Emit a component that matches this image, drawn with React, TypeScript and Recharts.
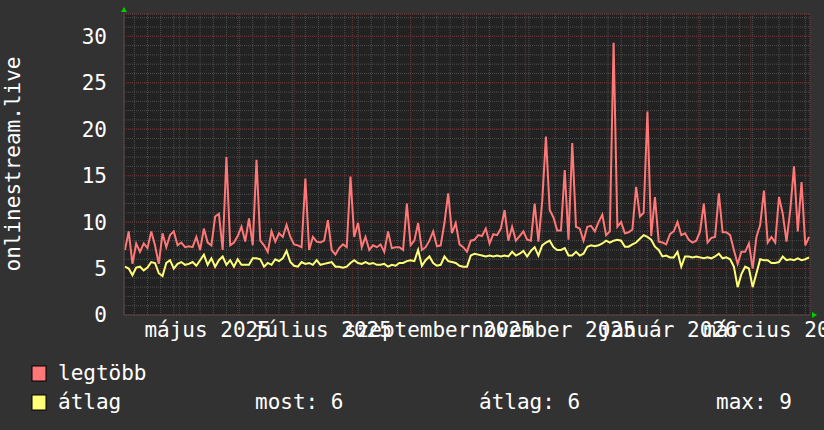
import { LineChart, Line, XAxis, YAxis, CartesianGrid, ReferenceDot } from "recharts";

const FONT = "'DejaVu Sans Mono', monospace";

// x = days since 1 Apr 2025, one sample every second day
const days = Array.from({ length: 183 }, (_, i) => 1 + i * 2);

// "legtöbb" (max)
const maxValues = [
  7.0, 9.0, 5.5, 7.7, 6.8, 7.7, 7.2, 9.0, 7.5, 5.5, 8.8, 7.3, 8.6, 9.0, 7.5, 7.8,
  7.3, 7.4, 7.3, 8.4, 7.0, 9.3, 7.8, 7.5, 10.6, 10.9, 7.0, 17.0, 7.5, 7.8, 8.5,
  9.5, 7.9, 10.4, 7.5, 16.7, 8.0, 7.5, 6.8, 9.0, 7.9, 8.8, 8.4, 9.7, 8.4, 7.6,
  7.5, 7.3, 14.7, 7.0, 8.4, 7.9, 7.8, 8.0, 10.2, 7.0, 6.5, 7.2, 7.6, 7.3, 14.9,
  8.4, 9.9, 7.3, 8.4, 7.0, 7.5, 7.3, 7.6, 6.8, 9.0, 7.2, 7.3, 7.3, 7.0, 12.0,
  7.5, 8.0, 9.9, 7.0, 7.3, 8.0, 9.0, 7.4, 7.5, 9.9, 13.1, 8.8, 9.9, 7.6, 7.3, 6.8,
  8.0, 8.1, 8.6, 8.5, 9.3, 7.7, 8.7, 8.6, 9.3, 11.3, 8.0, 9.5, 8.0, 8.5, 9.0,
  8.1, 8.0, 12.0, 7.9, 12.2, 19.2, 11.3, 10.5, 9.1, 9.1, 15.6, 8.1, 18.5, 9.5, 9.3, 8.0,
  9.5, 9.6, 9.0, 10.0, 10.8, 8.6, 9.0, 29.3, 9.5, 10.0, 8.8, 8.9, 9.2, 13.8, 10.6,
  11.0, 21.9, 8.5, 12.7, 7.9, 7.8, 7.6, 8.7, 9.0, 10.0, 8.6, 8.8, 8.1, 7.8, 8.0,
  9.0, 12.0, 7.8, 8.3, 8.4, 13.1, 8.9, 8.9, 8.6, 7.0, 5.5, 6.8, 6.8, 7.7, 5.0,
  8.4, 9.7, 13.4, 7.8, 8.4, 7.8, 12.7, 10.9, 7.9, 11.3, 16.0, 9.0, 14.3, 7.5, 8.4,
];

// "átlag" (average)
const avgValues = [
  5.2, 5.0, 4.3, 5.1, 5.2, 4.8, 5.1, 5.7, 5.6, 4.5, 4.2, 5.6, 5.9, 5.0, 5.5, 5.7,
  5.4, 5.5, 5.7, 5.3, 5.9, 6.5, 5.4, 6.1, 5.2, 5.9, 6.3, 5.4, 5.9, 5.2, 6.0,
  5.4, 5.4, 5.4, 6.1, 6.1, 6.0, 5.2, 5.6, 5.4, 6.0, 5.8, 6.1, 6.9, 5.7, 5.3,
  5.2, 5.7, 5.5, 5.6, 5.4, 5.9, 5.4, 5.5, 5.6, 5.7, 5.2, 5.2, 5.1, 5.2, 5.6,
  5.9, 5.6, 5.5, 5.7, 5.5, 5.6, 5.4, 5.4, 5.5, 5.2, 5.4, 5.3, 5.6, 5.6, 5.8,
  5.9, 5.8, 7.0, 5.3, 5.9, 6.3, 5.6, 5.3, 5.4, 6.3, 5.8, 5.7, 5.6, 5.3, 5.2, 5.2,
  6.4, 6.6, 6.5, 6.4, 6.3, 6.4, 6.3, 6.4, 6.3, 6.4, 6.3, 6.8, 6.4, 6.6, 6.9,
  6.3, 6.9, 7.3, 6.4, 7.5, 7.8, 8.0, 7.3, 7.0, 7.0, 7.2, 6.4, 6.4, 6.8, 6.4, 6.6,
  7.35, 7.5, 7.4, 7.5, 7.7, 8.0, 7.8, 8.0, 8.1, 8.0, 7.35, 7.35, 7.6, 7.8, 8.2,
  8.6, 8.4, 8.1, 7.35, 7.0, 6.3, 6.4, 6.2, 6.2, 6.8, 5.2, 6.3, 6.3, 6.2, 6.3,
  6.2, 6.1, 6.2, 6.1, 6.3, 6.6, 6.1, 6.2, 6.0, 5.2, 3.0, 4.4, 5.2, 5.0, 3.0,
  4.5, 6.0, 5.9, 5.9, 5.6, 5.6, 5.7, 6.3, 5.9, 6.0, 5.9, 6.1, 5.9, 6.0, 6.2,
];

// grid & labels
const monthStarts = [30, 61, 91, 122, 153, 183, 214, 244, 275, 306, 334];
const weekStarts = Array.from({ length: 52 }, (_, i) => 6 + i * 7); // Mondays
const labelDays = [45, 106, 168, 229, 290, 349];
const labelNames = ["május 2025", "július 2025", "szeptember 2025", "november 2025", "január 2026", "március 2026"];
const yMajor = [0, 5, 10, 15, 20, 25, 30];
const yMinor = Array.from({ length: 33 }, (_, i) => i);

const legendNames = ["legtöbb", "átlag"];
const legendColors = ["#ff7777", "#ffff77"];
const statLabels = ["most: 6", "átlag: 6", "max: 9"];

const X_MIN = 0.5;
const X_MAX = 365.5;
const Y_MAX = 32.4;

const data = days.map((d, i) => ({ day: d, max: maxValues[i], avg: avgValues[i] }));

const tickStyle = { fill: "#ffffff", fontSize: 21, fontFamily: FONT };

export default function App() {
  return (
    <div style={{ position: "absolute", left: 0, top: 0, width: 824, height: 430, background: "#323232", overflow: "hidden" }}>
      <LineChart width={824} height={430} data={data} margin={{ top: 14, right: 14, bottom: 85, left: 0 }}>
        <XAxis xAxisId="week" dataKey="day" type="number" domain={[X_MIN, X_MAX]} allowDataOverflow ticks={weekStarts} interval={0} hide />
        <XAxis xAxisId="month" dataKey="day" type="number" domain={[X_MIN, X_MAX]} allowDataOverflow ticks={monthStarts} interval={0} hide />
        <YAxis yAxisId="minor" type="number" domain={[0, Y_MAX]} allowDataOverflow ticks={yMinor} interval={0} hide />
        <CartesianGrid xAxisId="week" yAxisId="minor" stroke="#4e4e4e" strokeDasharray="1 1" fill="#222222" />
        <CartesianGrid xAxisId="month" yAxisId={0} stroke="#6e2f2f" strokeDasharray="1 1" />
        <XAxis
          dataKey="day"
          type="number"
          domain={[X_MIN, X_MAX]}
          allowDataOverflow
          ticks={labelDays}
          interval={0}
          tickFormatter={(v) => labelNames[labelDays.indexOf(v)] ?? ""}
          tick={tickStyle}
          tickLine={false}
          tickSize={0}
          tickMargin={7}
          height={30}
          axisLine={{ stroke: "#4a4a4a" }}
        />
        <YAxis
          type="number"
          domain={[0, Y_MAX]}
          allowDataOverflow
          ticks={yMajor}
          interval={0}
          width={124}
          tick={tickStyle}
          tickLine={false}
          tickSize={0}
          tickMargin={17}
          axisLine={{ stroke: "#4a4a4a" }}
        />
        <Line dataKey="max" stroke={legendColors[0]} strokeWidth={2} dot={false} isAnimationActive={false} />
        <Line dataKey="avg" stroke={legendColors[1]} strokeWidth={2} dot={false} isAnimationActive={false} />
        <ReferenceDot
          x={X_MIN}
          y={Y_MAX}
          ifOverflow="visible"
          shape={(p: any) => (
            <polygon points={`${p.cx - 3},${p.cy - 2} ${p.cx + 3},${p.cy - 2} ${p.cx},${p.cy - 7}`} fill="#00cc00" />
          )}
        />
        <ReferenceDot
          x={X_MAX}
          y={0}
          ifOverflow="visible"
          shape={(p: any) => (
            <polygon points={`${p.cx + 2},${p.cy - 3} ${p.cx + 2},${p.cy + 3} ${p.cx + 7},${p.cy}`} fill="#00cc00" />
          )}
        />
      </LineChart>
      <svg
        width={824}
        height={430}
        style={{ position: "absolute", left: 0, top: 0, pointerEvents: "none" }}
        fontFamily={FONT}
        fontSize={21}
        fill="#ffffff"
      >
        <text transform="translate(20 164) rotate(-90)" textAnchor="middle">
          onlinestream.live
        </text>
        {legendNames.map((name, i) => (
          <g key={name}>
            <rect x={32} y={366 + i * 29} width={14} height={15} fill={legendColors[i]} stroke="#000" strokeWidth={1} />
            <text x={58} y={380 + i * 29}>
              {name}
            </text>
          </g>
        ))}
        {statLabels.map((s, i) => (
          <text key={s} x={[255, 479, 716][i]} y={409}>
            {s}
          </text>
        ))}
      </svg>
    </div>
  );
}
